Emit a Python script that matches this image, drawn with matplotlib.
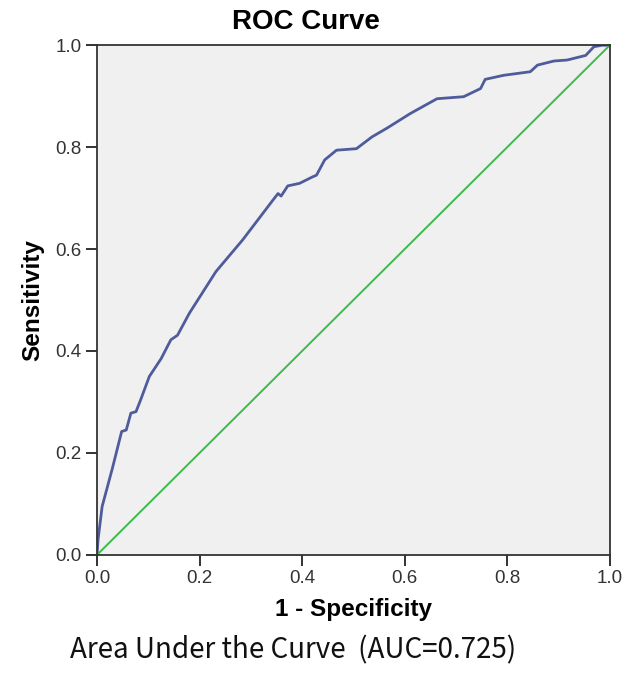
import numpy as np
import matplotlib.pyplot as plt

# ROC curve points
fpr = [0, 0.002, 0.010, 0.030, 0.048, 0.057, 0.066, 0.076, 0.085, 0.102,
       0.125, 0.144, 0.157, 0.180, 0.232, 0.284, 0.343, 0.353, 0.359, 0.372,
       0.395, 0.421, 0.428, 0.444, 0.467, 0.506, 0.536, 0.565, 0.611, 0.663,
       0.715, 0.748, 0.757, 0.793, 0.845, 0.859, 0.891, 0.917, 0.953, 0.969,
       0.985, 1.0]
tpr = [0, 0.030, 0.095, 0.170, 0.242, 0.245, 0.278, 0.281, 0.304, 0.350,
       0.385, 0.422, 0.431, 0.474, 0.556, 0.618, 0.696, 0.709, 0.704, 0.724,
       0.729, 0.742, 0.745, 0.775, 0.794, 0.797, 0.820, 0.837, 0.866, 0.895,
       0.899, 0.915, 0.933, 0.941, 0.948, 0.961, 0.969, 0.971, 0.980, 0.997,
       1.0, 1.0]
ref_line = [0, 1]
ticks = [0.0, 0.2, 0.4, 0.6, 0.8, 1.0]
auc = 0.725

plt.rcParams['font.family'] = ['Liberation Sans', 'DejaVu Sans']

fig = plt.figure(figsize=(6.28, 6.75), dpi=100)
ax = fig.add_axes([0.1545, 0.178, 0.8165, 0.755])
ax.set_facecolor('#f0f0f0')

ax.plot(fpr, tpr, color='#4f5c9c', lw=2)
ax.plot(ref_line, ref_line, color='#3dba4c', lw=1.4)

ax.set_xlim(0, 1)
ax.set_ylim(0, 1)
ax.set_xticks(ticks)
ax.set_yticks(ticks)
ax.set_xticklabels(['%.1f' % t for t in ticks])
ax.set_yticklabels(['%.1f' % t for t in ticks])
ax.tick_params(length=8, width=1.3, color='#222222', labelsize=13.5,
               labelcolor='#333333', pad=3)
for s in ax.spines.values():
    s.set_color('#333333')
    s.set_linewidth(1.3)

# title is centred on the whole figure, not on the axes
fig.text(0.487, 0.967, 'ROC Curve', fontsize=20, fontweight='bold',
         ha='center', va='center')
ax.set_xlabel('1 - Specificity', fontsize=17.5, fontweight='bold', labelpad=8)
ax.set_ylabel('Sensitivity', fontsize=17.5, fontweight='bold', labelpad=8)

fig.text(0.112, 0.037, 'Area Under the Curve  (AUC=%.3f)' % auc,
         fontsize=20, family=['Noto Sans CJK SC', 'DejaVu Sans'],
         ha='left', va='center', color='#111111')

fig.savefig('out.png', dpi=100)
